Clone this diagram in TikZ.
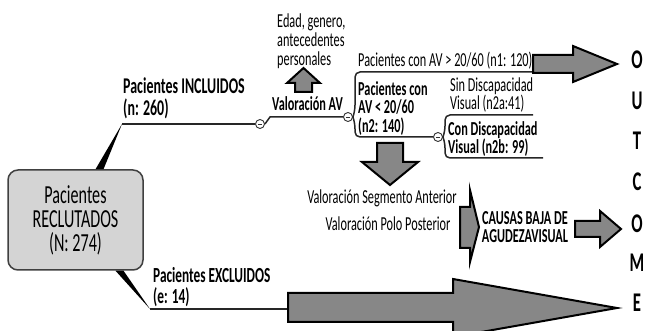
\documentclass[tikz,border=0pt]{standalone}
\usepackage{fontspec}
\setmainfont{Carlito}[FakeStretch=0.62]
\usetikzlibrary{calc}
\definecolor{arrowgray}{RGB}{135,135,135}
\definecolor{boxgray}{RGB}{212,212,212}

\begin{document}
\begin{tikzpicture}[x=1pt,y=-1pt,
  txt/.style={inner sep=0pt,anchor=west,align=left,font=\fontsize{19.8}{18}\selectfont},
  txtb/.style={txt,font=\fontsize{19.8}{18}\selectfont\bfseries},
  rootbox/.style={draw=black!75,fill=boxgray,line width=1.5pt,rounded corners=10pt,
    minimum width=135pt,minimum height=100pt,inner sep=0pt,align=center,
    font=\fontsize{26}{24}\selectfont},
  knob/.style={circle,draw=black!80,fill=white,line width=0.9pt,minimum size=9pt,inner sep=0pt,
    path picture={\draw[line width=0.8pt] ([xshift=2.4pt]path picture bounding box.west)
      -- ([xshift=-2.4pt]path picture bounding box.east);}},
  conn/.style={line width=1.5pt,black!85},
  blockarrow/.style={fill=arrowgray,draw=black,line width=2pt},
  outl/.style={inner sep=0pt,font=\fontsize{27}{27}\selectfont\bfseries}]
  \useasboundingbox (0,0) rectangle (646,331);

  % root
  \node[rootbox] (reclut) at (75.5,220) {Pacientes\\RECLUTADOS\\(N: 274)};

  % included branch
  \coordinate (incl) at (122,124);
  \fill[black] (reclut.north) ++(20,0) -- ++(8,0) -- (incl) -- cycle;
  \node[txtb,font=\fontsize{22.5}{22}\selectfont\bfseries] (inclab) at (123,98) {Pacientes INCLUIDOS\\(n: 260)};
  \node[knob] (c1) at (260,124) {};
  \draw[conn] (incl) -- (c1);
  \node[knob] (c2) at (348,117) {};
  \draw[conn] (c1.east) -- (270,117) -- (c2);
  \node[txtb] (valav) at (272,104) {Valoración AV};
  \node[txt,font=\fontsize{19.8}{19}\selectfont] (edad) at (277,41) {Edad, genero,\\antecedentes\\personales};
  \draw[blockarrow] (295,92) -- (295,83) -- (287,83) -- (303.5,68) -- (320,83) -- (312,83) -- (312,92) -- cycle;

  % visual acuity
  \node[txt] (n1lab) at (358,61) {Pacientes con AV > 20/60 (n1: 120)};
  \coordinate (n1end) at (533,72);
  \draw[conn,rounded corners=5pt] (c2.east) -- (355,110) -- (355,72) -- (n1end);
  \draw[blockarrow] (533,55) -- (573,55) -- (573,46) -- (617,64) -- (573,82) -- (573,73) -- (533,73) -- cycle;

  \node[txtb,font=\fontsize{19.8}{18.5}\selectfont\bfseries] (n2lab) at (358,108.5) {Pacientes con\\AV < 20/60\\(n2: 140)};
  \node[knob] (c3) at (438,137) {};
  \draw[conn,rounded corners=5pt] (c2.east) -- (355,124) -- (355,137) -- (c3);

  \node[txt,font=\fontsize{19.8}{18}\selectfont] (n2alab) at (450,95) {Sin Discapacidad\\Visual (n2a:41)};
  \coordinate (n2aend) at (533,115);
  \draw[conn,rounded corners=5pt] (c3.east) -- (445,131) -- (445,115) -- (n2aend);
  \node[txtb,font=\fontsize{19.8}{18}\selectfont\bfseries] (n2blab) at (448,139) {Con Discapacidad\\Visual (n2b: 99)};
  \coordinate (n2bend) at (543,158);
  \draw[conn,rounded corners=5pt] (c3.east) -- (445,143) -- (445,158) -- (n2bend);

  % causes
  \draw[blockarrow] (377,143) -- (403,143) -- (403,162) -- (418,162) -- (390,185) -- (362,162) -- (377,162) -- cycle;
  \node[txt,anchor=center] (segant) at (382,198) {Valoración Segmento Anterior};
  \node[txt,anchor=center] (polpos) at (388,224) {Valoración Polo Posterior};
  \draw[blockarrow] (460,207) -- (470,207) -- (470,190) -- (479,227) -- (470,262) -- (470,248) -- (460,248) -- cycle;
  \node[txtb,anchor=center,align=center] (causas) at (525,227) {CAUSAS BAJA DE\\AGUDEZAVISUAL};
  \draw[blockarrow] (575,221) -- (600,221) -- (600,211) -- (621,229) -- (600,247) -- (600,237) -- (575,237) -- cycle;

  % excluded branch
  \coordinate (excl) at (150,309);
  \fill[black] (reclut.south) ++(40,0) -- ++(8,0) -- (excl) -- cycle;
  \node[txtb,font=\fontsize{21.5}{20.5}\selectfont\bfseries] (exclab) at (153,287) {Pacientes EXCLUIDOS\\(e: 14)};
  \coordinate (bigstart) at (288,309);
  \draw[conn] (excl) -- (bigstart);
  \begin{scope}
    \clip (0,0) rectangle (646,331);
    \draw[blockarrow] (bigstart) ++(0,-16) -- (453,293) -- (453,279) -- (617,308) -- (453,337) -- (453,322) -- (288,322) -- cycle;
  \end{scope}

  % outcome
  \foreach \ch/\yy [count=\i] in {O/60,U/101,T/141,C/182,O/224,M/263,E/303}
    \node[outl] (out\i) at (637,\yy) {\ch};
\end{tikzpicture}
\end{document}
